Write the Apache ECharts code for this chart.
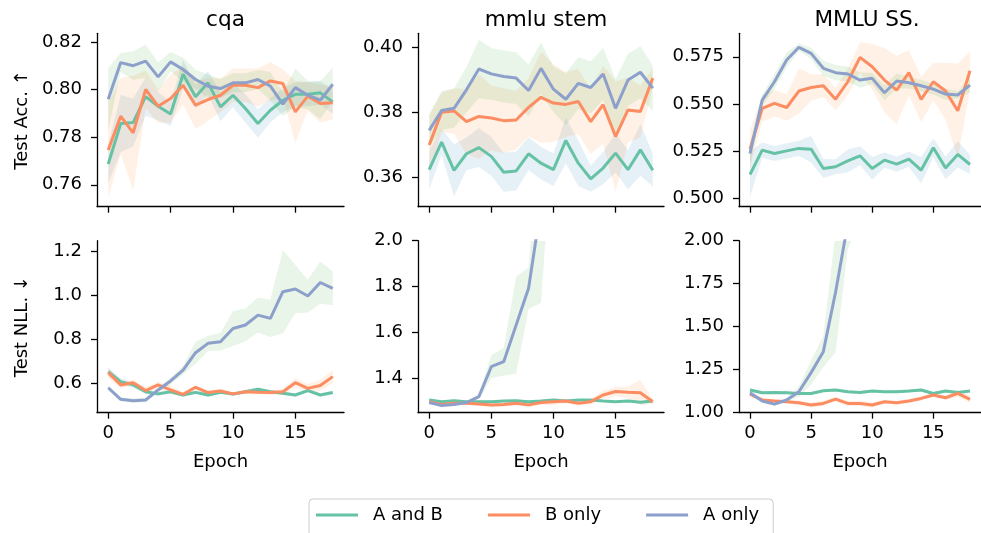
<!DOCTYPE html>
<html>
<head>
<meta charset="utf-8">
<script src="https://cdn.jsdelivr.net/npm/echarts@6/dist/echarts.min.js"></script>
<style>html,body{margin:0;padding:0;background:#fff}#c{width:981px;height:533px}</style>
</head>
<body>
<div id="c"></div>
<script>
// ---------------- data ----------------
const epochs = [0,1,2,3,4,5,6,7,8,9,10,11,12,13,14,15,16,17,18];
const seriesNames = ['A and B', 'B only', 'A only'];
const panelTitles = ['cqa', 'mmlu stem', 'MMLU SS.'];
const rowLabels = ['Test Acc. \u2191', 'Test NLL. \u2193'];
const xTickLabels = ['0', '5', '10', '15'];

// cqa accuracy
const cqaAccAB = [0.7687,0.7857,0.7862,0.7970,0.7930,0.7897,0.8064,0.7970,0.8028,0.7927,0.7976,0.7920,0.7857,0.7913,0.7955,0.7980,0.7980,0.7986,0.7948];
const cqaAccB  = [0.7746,0.7888,0.7818,0.8000,0.7930,0.7962,0.8018,0.7934,0.7958,0.7976,0.8018,0.8018,0.8008,0.8036,0.8025,0.7906,0.7972,0.7941,0.7944];
const cqaAccA  = [0.7959,0.8113,0.8100,0.8119,0.8053,0.8116,0.8084,0.8042,0.8014,0.8004,0.8028,0.8028,0.8042,0.8014,0.7939,0.8008,0.7976,0.7955,0.8022];
const cqaAccABStd = [0.008,0.012,0.010,0.008,0.006,0.005,0.006,0.005,0.005,0.006,0.005,0.006,0.006,0.005,0.005,0.005,0.005,0.005,0.005];
const cqaAccBStd  = [0.020,0.016,0.024,0.008,0.007,0.010,0.008,0.010,0.009,0.007,0.007,0.007,0.008,0.008,0.006,0.013,0.006,0.008,0.007];
const cqaAccAStd  = [0.013,0.004,0.006,0.007,0.006,0.004,0.005,0.004,0.005,0.004,0.004,0.004,0.004,0.006,0.005,0.008,0.006,0.008,0.007];
const cqaAccTicks = ['0.76','0.78','0.80','0.82'];

// mmlu stem accuracy
const stemAccAB = [0.3623,0.3708,0.3621,0.3672,0.3691,0.3664,0.3615,0.3619,0.3672,0.3643,0.3623,0.3713,0.3643,0.3595,0.3628,0.3674,0.3623,0.3684,0.3621];
const stemAccB  = [0.3699,0.3800,0.3804,0.3771,0.3787,0.3782,0.3774,0.3776,0.3815,0.3846,0.3828,0.3824,0.3833,0.3771,0.3823,0.3725,0.3807,0.3802,0.3905];
const stemAccA  = [0.3744,0.3805,0.3812,0.3869,0.3933,0.3918,0.3910,0.3905,0.3867,0.3935,0.3871,0.3840,0.3889,0.3876,0.3918,0.3812,0.3899,0.3923,0.3874];
const stemAccABStd = [0.006,0.004,0.008,0.005,0.006,0.006,0.006,0.006,0.005,0.005,0.005,0.007,0.007,0.004,0.005,0.006,0.006,0.008,0.005];
const stemAccBStd  = [0.009,0.006,0.007,0.010,0.013,0.010,0.010,0.009,0.009,0.014,0.012,0.010,0.010,0.010,0.012,0.017,0.010,0.008,0.003];
const stemAccAStd  = [0.005,0.006,0.006,0.007,0.009,0.008,0.008,0.008,0.008,0.008,0.007,0.008,0.008,0.008,0.008,0.009,0.008,0.008,0.007];
const stemAccTicks = ['0.36','0.38','0.40'];

// MMLU SS accuracy
const ssAccAB = [0.5128,0.5257,0.5239,0.5253,0.5266,0.5262,0.5160,0.5169,0.5200,0.5227,0.5160,0.5204,0.5183,0.5209,0.5151,0.5269,0.5163,0.5234,0.5181];
const ssAccB  = [0.5262,0.5477,0.5504,0.5482,0.5569,0.5588,0.5597,0.5526,0.5618,0.5747,0.5697,0.5627,0.5574,0.5666,0.5525,0.5618,0.5569,0.5465,0.5676];
const ssAccA  = [0.5239,0.5521,0.5618,0.5733,0.5800,0.5768,0.5689,0.5666,0.5659,0.5627,0.5636,0.5560,0.5622,0.5613,0.5597,0.5579,0.5553,0.5548,0.5600];
const ssAccABStd = [0.012,0.004,0.004,0.004,0.004,0.007,0.005,0.004,0.006,0.005,0.006,0.004,0.004,0.004,0.007,0.005,0.006,0.007,0.005];
const ssAccBStd  = [0.010,0.007,0.007,0.007,0.012,0.007,0.006,0.006,0.007,0.008,0.012,0.017,0.018,0.012,0.012,0.010,0.015,0.025,0.010];
const ssAccAStd  = [0.006,0.003,0.004,0.004,0.002,0.003,0.004,0.004,0.004,0.004,0.003,0.004,0.004,0.003,0.003,0.003,0.003,0.002,0.004];
const ssAccTicks = ['0.500','0.525','0.550','0.575'];

// cqa NLL
const cqaNllAB = [0.651,0.606,0.591,0.560,0.550,0.560,0.545,0.557,0.545,0.557,0.549,0.560,0.571,0.560,0.553,0.545,0.565,0.545,0.556];
const cqaNllB  = [0.647,0.591,0.601,0.565,0.591,0.568,0.548,0.580,0.556,0.563,0.550,0.560,0.557,0.556,0.560,0.601,0.575,0.588,0.629];
const cqaNllA  = [0.578,0.525,0.519,0.522,0.568,0.609,0.659,0.738,0.781,0.788,0.849,0.865,0.910,0.895,1.017,1.029,0.997,1.059,1.032];
const cqaNllABStd = [0.020,0.015,0.012,0.010,0.010,0.008,0.008,0.008,0.008,0.008,0.008,0.008,0.008,0.008,0.008,0.008,0.008,0.008,0.008];
const cqaNllBStd  = [0.025,0.015,0.012,0.015,0.015,0.020,0.010,0.010,0.010,0.010,0.008,0.010,0.010,0.010,0.012,0.020,0.020,0.025,0.030];
const cqaNllAStd  = [0.010,0.010,0.010,0.010,0.010,0.015,0.020,0.050,0.035,0.040,0.080,0.075,0.080,0.085,0.190,0.110,0.075,0.097,0.076];
const cqaNllTicks = ['0.6','0.8','1.0','1.2'];

// mmlu stem NLL
const stemNllAB = [1.307,1.300,1.304,1.300,1.300,1.300,1.303,1.304,1.300,1.303,1.307,1.303,1.307,1.307,1.303,1.300,1.303,1.297,1.303];
const stemNllB  = [1.300,1.288,1.293,1.293,1.290,1.286,1.288,1.293,1.286,1.296,1.300,1.303,1.293,1.300,1.329,1.344,1.341,1.339,1.300];
const stemNllA  = [1.296,1.283,1.288,1.296,1.322,1.452,1.474,1.633,1.793,2.150,2.900,3.420,3.950,4.510,4.980,5.560,6.020,6.490,7.030];
const stemNllABStd = [0.006,0.005,0.005,0.005,0.005,0.005,0.005,0.005,0.005,0.005,0.005,0.005,0.005,0.005,0.005,0.005,0.005,0.005,0.005];
const stemNllBStd  = [0.008,0.008,0.008,0.008,0.008,0.010,0.010,0.010,0.010,0.010,0.015,0.010,0.010,0.010,0.020,0.020,0.025,0.055,0.010];
const stemNllAStd  = [0.006,0.005,0.005,0.006,0.010,0.050,0.060,0.210,0.090,0.420,0.400,0.500,0.500,0.600,0.600,0.700,0.700,0.800,0.800];
const stemNllTicks = ['1.4','1.6','1.8','2.0'];

// MMLU SS NLL
const ssNllAB = [1.132,1.116,1.118,1.116,1.112,1.112,1.128,1.132,1.122,1.118,1.126,1.122,1.122,1.126,1.132,1.112,1.126,1.118,1.126];
const ssNllB  = [1.108,1.074,1.068,1.064,1.058,1.045,1.054,1.079,1.054,1.054,1.045,1.064,1.058,1.068,1.083,1.103,1.087,1.112,1.078];
const ssNllA  = [1.116,1.068,1.050,1.074,1.122,1.233,1.355,1.700,2.100,2.620,3.050,3.710,4.180,4.660,5.270,5.700,6.340,6.810,7.260];
const ssNllABStd = [0.010,0.008,0.008,0.008,0.008,0.008,0.008,0.008,0.008,0.008,0.008,0.008,0.008,0.008,0.008,0.008,0.008,0.008,0.008];
const ssNllBStd  = [0.010,0.010,0.012,0.012,0.015,0.015,0.015,0.012,0.015,0.015,0.015,0.012,0.012,0.012,0.012,0.012,0.012,0.020,0.020];
const ssNllAStd  = [0.010,0.010,0.010,0.010,0.030,0.070,0.090,0.350,0.150,0.500,0.500,0.500,0.600,0.600,0.600,0.700,0.700,0.700,0.800];
const ssNllTicks = ['1.00','1.25','1.50','1.75','2.00'];

// ---------------- styling / layout ----------------
const FONT = 'DejaVu Sans';
const lineColors = ['#66c2a5', '#fc8d62', '#8da0cb'];
const bandColors = ['rgba(31,119,180,0.11)', 'rgba(255,127,14,0.11)', 'rgba(44,160,44,0.11)'];

const panels = [
  {means:[cqaAccAB,cqaAccB,cqaAccA], stds:[cqaAccABStd,cqaAccBStd,cqaAccAStd], ticks:cqaAccTicks, min:0.7508, max:0.8236},
  {means:[stemAccAB,stemAccB,stemAccA], stds:[stemAccABStd,stemAccBStd,stemAccAStd], ticks:stemAccTicks, min:0.3509, max:0.4043},
  {means:[ssAccAB,ssAccB,ssAccA], stds:[ssAccABStd,ssAccBStd,ssAccAStd], ticks:ssAccTicks, min:0.4958, max:0.5874},
  {means:[cqaNllAB,cqaNllB,cqaNllA], stds:[cqaNllABStd,cqaNllBStd,cqaNllAStd], ticks:cqaNllTicks, min:0.464, max:1.25},
  {means:[stemNllAB,stemNllB,stemNllA], stds:[stemNllABStd,stemNllBStd,stemNllAStd], ticks:stemNllTicks, min:1.252, max:2.0},
  {means:[ssNllAB,ssNllB,ssNllA], stds:[ssNllABStd,ssNllBStd,ssNllAStd], ticks:ssNllTicks, min:1.0, max:2.0}
];

const colLeft = [97, 418, 739];
const colWidth = [247, 246, 246];
const rowTop = [33.3, 240.7];
const rowHeight = [173.4, 172];

const grids = [], xAxes = [], yAxes = [], series = [], titles = [];
const axisLineStyle = {color:'#000', width:1.3};
const tickStyle = {color:'#000', width:1.3};

function bandRenderer(lo, hi, color) {
  return function (params, api) {
    if (params.dataIndex !== 0) return null;
    const top = [], bottom = [];
    for (let i = 0; i < epochs.length; i++) {
      top.push(api.coord([epochs[i], hi[i]]));
      bottom.push(api.coord([epochs[i], lo[i]]));
    }
    const pts = top.concat(bottom.reverse());
    const cs = params.coordSys;
    return {
      type: 'polygon',
      shape: {points: pts},
      style: {fill: color, stroke: 'none'},
      clipPath: {type: 'rect', shape: {x: cs.x, y: cs.y, width: cs.width, height: cs.height}},
      silent: true
    };
  };
}

panels.forEach((p, k) => {
  const row = Math.floor(k / 3), col = k % 3;
  grids.push({left: colLeft[col], top: rowTop[row], width: colWidth[col], height: rowHeight[row], containLabel:false});
  const xTickVals = xTickLabels.map(Number);
  xAxes.push({
    type:'value', gridIndex:k, min:-0.9, max:18.9,
    axisLine:{show:true, onZero:false, lineStyle:axisLineStyle},
    axisTick:{show:true, length:6, lineStyle:tickStyle, customValues:xTickVals},
    axisLabel:{show: row === 1, customValues:xTickVals, margin:12,
      formatter: v => xTickLabels[xTickVals.indexOf(v)] ?? '',
      fontFamily:FONT, fontSize:18, color:'#000'},
    splitLine:{show:false},
    name: row === 1 ? 'Epoch' : '', nameLocation:'middle', nameGap:41,
    nameTextStyle:{fontFamily:FONT, fontSize:18, color:'#000'}
  });
  const yTickVals = p.ticks.map(Number);
  yAxes.push({
    type:'value', gridIndex:k, min:p.min, max:p.max,
    axisLine:{show:true, onZero:false, lineStyle:axisLineStyle},
    axisTick:{show:true, length:6, lineStyle:tickStyle, customValues:yTickVals},
    axisLabel:{show:true, customValues:yTickVals, margin:15,
      formatter: v => p.ticks[yTickVals.indexOf(v)] ?? '',
      fontFamily:FONT, fontSize:18, color:'#000'},
    splitLine:{show:false},
    name: col === 0 ? rowLabels[row] : '', nameLocation:'middle', nameGap:66, nameRotate:90,
    nameTextStyle:{fontFamily:FONT, fontSize:18, color:'#000'}
  });
  if (row === 0) {
    titles.push({text: panelTitles[col], left: colLeft[col] + colWidth[col] / 2, top: 4, textAlign:'center',
      textStyle:{fontFamily:FONT, fontSize:21.6, fontWeight:'normal', color:'#000'}});
  }
  // bands (under the lines)
  p.means.forEach((m, s) => {
    const sd = p.stds[s];
    const lo = m.map((v, i) => v - sd[i]);
    const hi = m.map((v, i) => v + sd[i]);
    series.push({
      type:'custom', xAxisIndex:k, yAxisIndex:k, silent:true, z:1, clip:true,
      data: epochs.map((e, i) => [e, lo[i], hi[i]]),
      encode:{x:0, y:[1, 2]},
      renderItem: bandRenderer(lo, hi, bandColors[s]),
      tooltip:{show:false}, animation:false
    });
  });
  // mean lines
  p.means.forEach((m, s) => {
    series.push({
      name: seriesNames[s], type:'line', xAxisIndex:k, yAxisIndex:k, symbol:'none', z:2,
      data: epochs.map((e, i) => [e, m[i]]),
      lineStyle:{color: lineColors[s], width:3}, itemStyle:{color: lineColors[s]}, animation:false
    });
  });
});

const chart = echarts.init(document.getElementById('c'), null, {renderer:'canvas'});
chart.setOption({
  backgroundColor:'#fff',
  animation:false,
  title: titles,
  grid: grids, xAxis: xAxes, yAxis: yAxes, series: series,
  legend: {
    data: seriesNames.map(n => ({name:n, icon:'rect'})),
    left: 309, top: 499, orient:'horizontal',
    itemWidth: 42, itemHeight: 3, itemGap: 45,
    padding: [7, 14, 14, 7],
    borderColor:'#cccccc', borderWidth:1, borderRadius:4, backgroundColor:'#fff',
    textStyle:{fontFamily:FONT, fontSize:18, color:'#000', padding:[0,0,0,10]},
    selectedMode:false
  }
});
</script>
</body>
</html>
